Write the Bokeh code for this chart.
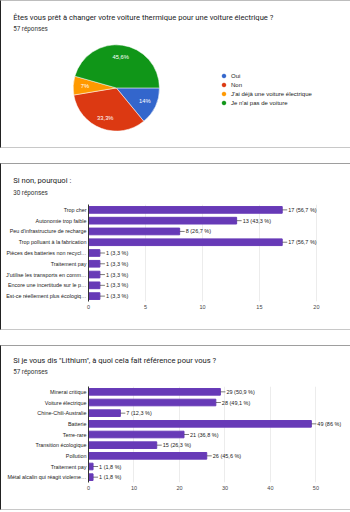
import math
from bokeh.plotting import figure
from bokeh.models import (Range1d, FactorRange, FixedTicker, Legend, LegendItem,
                          ColumnDataSource)
from bokeh.core.properties import value
from bokeh.embed import file_html
from bokeh.resources import INLINE

# ---------------- data ----------------
q1_title = "Êtes vous prêt à changer votre voiture thermique pour une voiture électrique ?"
q1_sub = "57 réponses"
q1_labels = ["Oui", "Non", "J'ai déjà une voiture électrique", "Je n'ai pas de voiture"]
q1_counts = [8, 19, 4, 26]
q1_colors = ["#3366cc", "#dc3912", "#ff9900", "#109618"]

q2_title = "Si non, pourquoi :"
q2_sub = "30 réponses"
q2_total = 30
q2_cats = ["Trop cher", "Autonomie trop faible", "Peu d'infrastructure de recharge",
           "Trop polluant à la fabrication", "Pièces des batteries non recycl…",
           "Traitement pay", "J'utilise les transports en comm…",
           "Encore une incertitude sur le p…", "Est-ce réellement plus écologiq…"]
q2_vals = [17, 13, 8, 17, 1, 1, 1, 1, 1]
q2_ticks = [0, 5, 10, 15, 20]

q3_title = "Si je vous dis \"Lithium\", à quoi cela fait référence pour vous ?"
q3_sub = "57 réponses"
q3_total = 57
q3_cats = ["Minerai critique", "Voiture électrique", "Chine-Chili-Australie", "Batterie",
           "Terre-rare", "Transition écologique", "Pollution", "Traitement pay",
           "Métal alcalin qui réagit violeme…"]
q3_vals = [29, 28, 7, 49, 21, 15, 26, 1, 1]
q3_ticks = [0, 10, 20, 30, 40, 50]

PURPLE = "#673ab7"
CHART_FONT = "Liberation Sans"
TITLE_FONT = "Roboto"
W = 350          # box width incl. 1px left border
CW = W - 1       # canvas width
LEFT = 87        # room for category labels
RIGHT = 10


def pct(v, total):
    s = f"{round(100 * v / total, 1):.1f}"
    if s.endswith(".0"):
        s = s[:-2]
    return s.replace(".", ",")


def title_fig(title, sub, ty, sy, top_color):
    """Header strip (40px canvas + 1px top border) holding question and answer count."""
    t = figure(width=W, height=41, output_backend="svg", toolbar_location=None,
               x_axis_type=None, y_axis_type=None, min_border=0,
               x_range=Range1d(0, CW), y_range=Range1d(40, 0),
               styles={"border-top": f"1px solid {top_color}",
                       "border-left": "1px solid #222"})
    t.grid.visible = False
    t.outline_line_color = None
    t.text(x=[11.7], y=[ty], text=[title], text_font=value(TITLE_FONT),
           text_font_size="7.6px", text_color="#202124", text_baseline="middle")
    t.text(x=[11.7], y=[sy], text=[sub], text_font=value(TITLE_FONT),
           text_font_size="6.3px", text_color="#333333", text_baseline="middle")
    return t


def body_styles(gap):
    st = {"border-left": "1px solid #222", "border-bottom": "1px solid #c8c8c8"}
    if gap:
        st["margin-bottom"] = gap
    return st


# ---------------- panel 1 : pie ----------------
t1 = title_fig(q1_title, q1_sub, 15.7, 27.0, "#bdbdbd")
CH1 = 106                 # canvas height of pie body
cx, cy = 114.5, 46        # pie centre: px from canvas left / canvas top
R = 43
p1 = figure(width=W, height=CH1 + 1, output_backend="svg", toolbar_location=None,
            x_axis_type=None, y_axis_type=None, min_border=0,
            x_range=Range1d(-cx, CW - cx), y_range=Range1d(-(CH1 - cy), cy),
            styles=body_styles("15px"))
p1.grid.visible = False
p1.outline_line_color = None

tot1 = sum(q1_counts)
starts, ends, lx, ly, ltxt = [], [], [], [], []
cum = 0.0
for c in q1_counts:
    a0 = -2 * math.pi * cum / tot1
    a1 = -2 * math.pi * (cum + c) / tot1
    starts.append(a1)
    ends.append(a0)
    mid = (a0 + a1) / 2
    lx.append(0.73 * R * math.cos(mid))
    ly.append(0.73 * R * math.sin(mid))
    ltxt.append(pct(c, tot1) + "%")
    cum += c

src1 = ColumnDataSource(dict(start=starts, end=ends, color=q1_colors, label=q1_labels))
p1.wedge(x=0, y=0, radius=R, start_angle="start", end_angle="end", color="color",
         line_color="white", line_width=0.5, source=src1)
p1.text(x=lx, y=ly, text=ltxt, text_color="white", text_font_size="5.8px",
        text_font=value(CHART_FONT), text_align="center", text_baseline="middle")

items = []
for lab, col in zip(q1_labels, q1_colors):
    r = p1.scatter(x=[float("nan")], y=[float("nan")], size=5, color=col)
    items.append(LegendItem(label=lab, renderers=[r]))
leg = Legend(items=items, location=(218, 41), label_text_font_size="6px",
             label_text_font=CHART_FONT, label_text_color="#222222",
             glyph_width=9, glyph_height=9, label_height=9, spacing=0,
             padding=0, margin=0, label_standoff=3, border_line_color=None,
             background_fill_alpha=0)
p1.add_layout(leg)


# ---------------- bar panels ----------------
def bar_panel(cats, vals, total, ticks, px_per_unit, canvas_h, bottom, gap):
    xmax = (CW - LEFT - RIGHT) / px_per_unit
    stem = 5 / px_per_unit
    p = figure(width=W, height=canvas_h + 1, output_backend="svg", toolbar_location=None,
               y_range=FactorRange(factors=list(reversed(cats))),
               x_range=Range1d(0, xmax),
               min_border_left=LEFT, min_border_right=RIGHT, min_border_top=0,
               min_border_bottom=bottom, styles=body_styles(gap))
    p.outline_line_color = None
    p.ygrid.visible = False
    p.xgrid.grid_line_color = "#ececec"
    p.xgrid.ticker = FixedTicker(ticks=ticks)
    p.xaxis.ticker = FixedTicker(ticks=ticks)
    p.xaxis.axis_line_color = None
    p.xaxis.major_tick_line_color = None
    p.xaxis.minor_tick_line_color = None
    p.xaxis.major_tick_out = 0
    p.xaxis.minor_tick_out = 0
    p.xaxis.major_label_text_font_size = "5.5px"
    p.xaxis.major_label_text_font = CHART_FONT
    p.xaxis.major_label_text_color = "#444444"
    p.xaxis.major_label_standoff = 3
    p.yaxis.axis_line_color = "#333333"
    p.yaxis.major_tick_line_color = None
    p.yaxis.minor_tick_line_color = None
    p.yaxis.major_tick_out = 0
    p.yaxis.minor_tick_out = 0
    p.yaxis.major_label_text_font_size = "5.4px"
    p.yaxis.major_label_text_font = CHART_FONT
    p.yaxis.major_label_text_color = "#222222"
    p.yaxis.major_label_standoff = 2
    labels = [f"{v} ({pct(v, total)} %)" for v in vals]
    src = ColumnDataSource(dict(cat=cats, val=vals, stem=[v + stem for v in vals],
                                lab=labels))
    p.hbar(y="cat", right="val", left=0, height=0.62, color=PURPLE, source=src)
    p.segment(x0="val", x1="stem", y0="cat", y1="cat", line_color="#444444",
              line_width=0.7, source=src)
    p.text(x="stem", y="cat", text="lab", x_offset=1, text_font_size="5.5px",
           text_font=value(CHART_FONT), text_color="#222222", text_baseline="middle",
           source=src)
    return p


t2 = title_fig(q2_title, q2_sub, 16.0, 27.7, "#9e9e9e")
p2 = bar_panel(q2_cats, q2_vals, q2_total, q2_ticks, 11.35, 125, 29, "15px")
t3 = title_fig(q3_title, q3_sub, 13.7, 25.0, "#9e9e9e")
p3 = bar_panel(q3_cats, q3_vals, q3_total, q3_ticks, 4.53, 123, 28, None)

open("out.html", "w").write(file_html([t1, p1, t2, p2, t3, p3], INLINE))
